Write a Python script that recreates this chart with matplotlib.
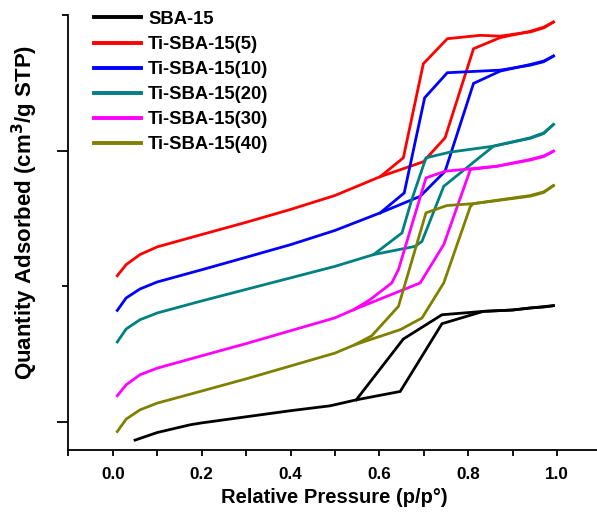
import matplotlib
matplotlib.use("Agg")
import matplotlib.pyplot as plt
from matplotlib.ticker import MultipleLocator

plt.rcParams['font.family'] = ['Liberation Sans', 'DejaVu Sans']
plt.rcParams['font.weight'] = 'bold'

labels = ["SBA-15", "Ti-SBA-15(5)", "Ti-SBA-15(10)", "Ti-SBA-15(20)", "Ti-SBA-15(30)", "Ti-SBA-15(40)"]
colors = ["#000000", "#FF0000", "#0000FF", "#008080", "#FF00FF", "#808000"]

# adsorption branches (x, y)
sba_ads_x = [0.05, 0.10, 0.174, 0.2, 0.3, 0.4, 0.489, 0.548, 0.647, 0.741, 0.834, 0.90, 0.94, 0.97, 0.992]
sba_ads_y = [-13.7, -8.1, -2.4, -1.0, 3.5, 8.0, 11.6, 16.0, 22.2, 72.2, 81.3, 82.3, 83.8, 84.5, 85.5]
sba_des_x = [0.992, 0.94, 0.90, 0.834, 0.741, 0.654, 0.548]
sba_des_y = [85.5, 83.8, 82.3, 81.3, 78.8, 60.9, 16.0]

t5_ads_x = [0.01, 0.03, 0.061, 0.10, 0.2, 0.3, 0.4, 0.5, 0.602, 0.699, 0.748, 0.812, 0.872, 0.94, 0.97, 0.992]
t5_ads_y = [107.6, 115.8, 123.2, 128.9, 138.0, 147.0, 156.5, 166.8, 180.7, 191.7, 209.4, 275.1, 283.3, 288.0, 291.0, 294.8]
t5_des_x = [0.992, 0.97, 0.94, 0.872, 0.827, 0.753, 0.699, 0.654, 0.602]
t5_des_y = [294.8, 290.5, 287.5, 284.4, 285.0, 282.5, 264.0, 194.6, 180.7]

t10_ads_x = [0.01, 0.03, 0.061, 0.10, 0.2, 0.3, 0.361, 0.4, 0.5, 0.602, 0.692, 0.748, 0.812, 0.872, 0.94, 0.97, 0.992]
t10_ads_y = [82.0, 91.2, 97.8, 103.0, 112.0, 121.2, 126.9, 130.5, 141.0, 154.0, 166.2, 184.7, 249.5, 258.6, 263.5, 266.0, 269.7]
t10_des_x = [0.992, 0.97, 0.94, 0.872, 0.753, 0.702, 0.656, 0.602]
t10_des_y = [269.7, 265.5, 263.0, 259.3, 257.4, 238.9, 168.7, 154.0]

t20_ads_x = [0.01, 0.03, 0.061, 0.10, 0.2, 0.3, 0.4, 0.5, 0.587, 0.681, 0.696, 0.745, 0.857, 0.94, 0.97, 0.992]
t20_ads_y = [58.7, 68.3, 75.1, 80.1, 89.0, 97.5, 106.0, 114.5, 123.2, 129.3, 133.0, 173.6, 203.2, 209.4, 213.0, 219.2]
t20_des_x = [0.992, 0.97, 0.94, 0.857, 0.759, 0.705, 0.673, 0.651, 0.587]
t20_des_y = [219.2, 212.5, 209.0, 203.2, 198.8, 194.6, 163.8, 139.2, 123.2]

t30_ads_x = [0.01, 0.03, 0.061, 0.10, 0.2, 0.3, 0.4, 0.5, 0.542, 0.692, 0.745, 0.805, 0.865, 0.94, 0.97, 0.992]
t30_ads_y = [19.0, 27.1, 34.5, 39.4, 48.5, 57.5, 67.0, 76.5, 82.5, 102.3, 130.6, 186.0, 188.4, 193.4, 196.0, 199.5]
t30_des_x = [0.992, 0.97, 0.94, 0.865, 0.748, 0.705, 0.643, 0.628, 0.579, 0.542]
t30_des_y = [199.5, 195.5, 193.0, 188.4, 184.7, 179.8, 112.1, 102.3, 89.9, 82.5]

t40_ads_x = [0.01, 0.03, 0.061, 0.10, 0.2, 0.3, 0.4, 0.5, 0.545, 0.647, 0.696, 0.745, 0.805, 0.812, 0.94, 0.97, 0.992]
t40_ads_y = [-7.4, 1.8, 8.6, 13.6, 22.5, 31.5, 41.0, 50.5, 56.7, 67.8, 76.4, 102.3, 158.8, 160.8, 166.8, 169.5, 174.1]
t40_des_x = [0.992, 0.97, 0.94, 0.812, 0.752, 0.705, 0.643, 0.583, 0.545]
t40_des_y = [174.1, 169.0, 166.3, 160.8, 159.4, 154.0, 85.0, 63.3, 56.7]

series = [
    (sba_ads_x, sba_ads_y, sba_des_x, sba_des_y),
    (t5_ads_x, t5_ads_y, t5_des_x, t5_des_y),
    (t10_ads_x, t10_ads_y, t10_des_x, t10_des_y),
    (t20_ads_x, t20_ads_y, t20_des_x, t20_des_y),
    (t30_ads_x, t30_ads_y, t30_des_x, t30_des_y),
    (t40_ads_x, t40_ads_y, t40_des_x, t40_des_y),
]

xticks = [0.0, 0.2, 0.4, 0.6, 0.8, 1.0]

fig = plt.figure(figsize=(5.97, 5.17), dpi=100)
ax = fig.add_axes([0.1146, 0.1296, 0.8854, 0.8414])

lw = 2.0
for (ax_x, ax_y, dx, dy), c, lab in zip(series, colors, labels):
    ax.plot(ax_x, ax_y, color=c, lw=lw, label=lab, solid_joinstyle='miter')
    ax.plot(dx, dy, color=c, lw=lw, solid_joinstyle='miter')

ax.set_xlim(-0.1, 1.09)
ax.set_ylim(-21, 300)

ax.spines['top'].set_visible(False)
ax.spines['right'].set_visible(False)
ax.spines['left'].set_linewidth(1.3)
ax.spines['bottom'].set_linewidth(1.3)

ax.set_xticks(xticks)
ax.set_xticklabels([f"{v:.1f}" for v in xticks], fontsize=12.3, fontweight='bold')
ax.xaxis.set_minor_locator(MultipleLocator(0.1))
ax.yaxis.set_major_locator(MultipleLocator(200))
ax.yaxis.set_minor_locator(MultipleLocator(100))
ax.set_yticklabels([])
ax.tick_params(axis='x', which='both', direction='out', length=4.5, width=1.3, pad=7.5)
ax.tick_params(axis='y', which='major', direction='out', length=8, width=1.3)
ax.tick_params(axis='y', which='minor', direction='out', length=4, width=1.3)

ax.set_xlabel("Relative Pressure (p/p°)", fontsize=14.5, fontweight='bold', va='center')
ax.xaxis.set_label_coords(0.5025, -0.11)
ax.set_ylabel("Quantity Adsorbed (cm$^\\mathbf{3}$/g STP)", fontsize=16, fontweight='bold', va='center')
ax.yaxis.set_label_coords(-0.082, 0.545)

leg = ax.legend(loc='upper left', bbox_to_anchor=(0.158, 0.979), bbox_transform=fig.transFigure,
                frameon=False, fontsize=13.2, handlelength=2.55, handletextpad=0.38,
                labelspacing=0.44, borderpad=0, borderaxespad=0)
for line in leg.get_lines():
    line.set_linewidth(2.8)
for t in leg.get_texts():
    t.set_fontweight('bold')

fig.savefig("out.png", dpi=100)
